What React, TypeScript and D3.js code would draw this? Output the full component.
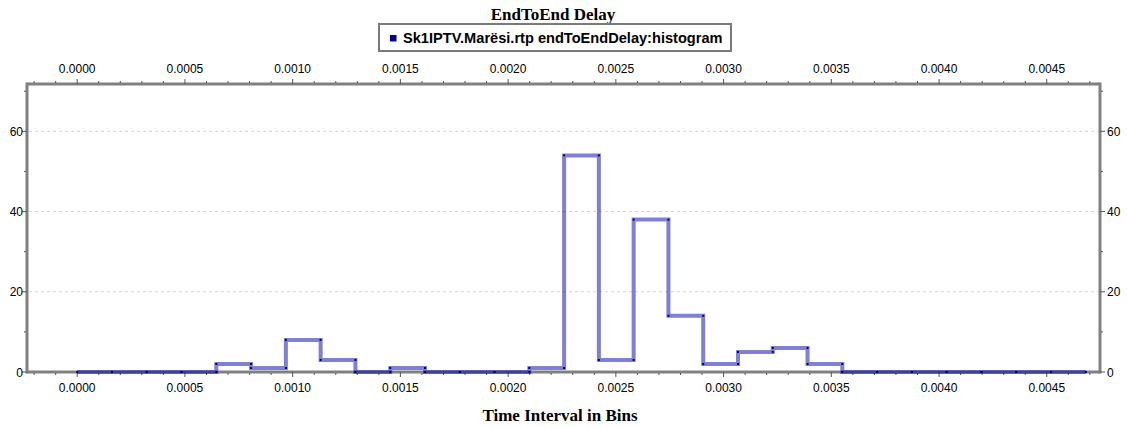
import React from 'react'
import * as d3 from 'd3'

// histogram: 29 equal bins from binStart to binEnd
const binStart = 0
const binEnd = 0.004681
const counts = [0, 0, 0, 0, 2, 1, 8, 3, 0, 1, 0, 0, 0, 1, 54, 3, 38, 14, 2, 5, 6, 2, 0, 0, 0, 0, 0, 0, 0]

const xTickValues = [0, 0.0005, 0.001, 0.0015, 0.002, 0.0025, 0.003, 0.0035, 0.004, 0.0045]
const yTickValues = [0, 20, 40, 60]
const yMinorValues = [10, 30, 50, 70]

const title = 'EndToEnd Delay'
const seriesName = 'Sk1IPTV.Marësi.rtp endToEndDelay:histogram'
const xTitle = 'Time Interval in Bins'

const W = 1127
const H = 427
const left = 27
const right = 1100
const top = 84
const bottom = 372

export default function App() {
  const x = d3.scaleLinear().domain([-0.000233, 0.004747]).range([left, right])
  const y = d3.scaleLinear().domain([0, 71.8]).range([bottom, top])

  const bw = (binEnd - binStart) / counts.length
  const pts: [number, number][] = []
  counts.forEach((c, i) => {
    pts.push([binStart + i * bw, c])
    pts.push([binStart + (i + 1) * bw, c])
  })
  const line = d3.line<[number, number]>()
    .x(d => x(d[0]))
    .y(d => y(d[1]))

  const minorX = d3.range(-2, 48).map(k => k * 0.0001).filter(v => x(v) > left + 2 && x(v) < right - 2 && Math.abs(v * 2000 - Math.round(v * 2000)) > 1e-6)

  const sans = 'Arial, "Liberation Sans", sans-serif'
  const serif = '"Times New Roman", "Liberation Serif", serif'
  const frame = '#808080'

  return (
    <svg width={W} height={H} style={{ position: 'absolute', left: 0, top: 0, background: '#fff' }}>
      <text x={553} y={20} textAnchor="middle" fontFamily={serif} fontWeight="bold" fontSize={17}>{title}</text>
      <rect x={379} y={24} width={352} height={27} fill="#fff" stroke="#7a7a7a" strokeWidth={2} />
      <rect x={390} y={35} width={6.5} height={6.5} fill="#00008b" />
      <text x={403} y={42.5} fontFamily={sans} fontWeight="bold" fontSize={14.6}>{seriesName}</text>

      {/* grid */}
      {yTickValues.filter(v => v > 0).map(v => (
        <line key={'g' + v} x1={left + 2} x2={right - 2} y1={y(v)} y2={y(v)} stroke="#d4d4d4" strokeDasharray="3,3" />
      ))}

      {/* frame */}
      <line x1={left} x2={right} y1={top} y2={top} stroke={frame} strokeWidth={3} />
      <line x1={left} x2={right} y1={bottom} y2={bottom} stroke={frame} strokeWidth={3} />
      <line x1={left} x2={left} y1={top - 1.5} y2={bottom + 1.5} stroke={frame} strokeWidth={3} />
      <line x1={right} x2={right} y1={top - 1.5} y2={bottom + 1.5} stroke={frame} strokeWidth={3} />

      {/* x ticks */}
      {xTickValues.map(v => (
        <g key={'x' + v}>
          <line x1={x(v)} x2={x(v)} y1={top - 5} y2={top} stroke="#555" />
          <line x1={x(v)} x2={x(v)} y1={bottom} y2={bottom + 5} stroke="#555" />
          <text x={x(v)} y={top - 11} textAnchor="middle" fontFamily={sans} fontSize={12}>{v.toFixed(4)}</text>
          <text x={x(v)} y={bottom + 20} textAnchor="middle" fontFamily={sans} fontSize={12}>{v.toFixed(4)}</text>
        </g>
      ))}
      {minorX.map(v => (
        <g key={'m' + v}>
          <line x1={x(v)} x2={x(v)} y1={top - 3} y2={top - 1} stroke="#555" />
          <line x1={x(v)} x2={x(v)} y1={bottom + 1} y2={bottom + 3} stroke="#555" />
        </g>
      ))}

      {/* y ticks */}
      {yTickValues.map(v => (
        <g key={'y' + v}>
          <line x1={left - 5} x2={left} y1={y(v)} y2={y(v)} stroke="#555" />
          <line x1={right} x2={right + 5} y1={y(v)} y2={y(v)} stroke="#555" />
          <text x={left - 4} y={y(v) + 4.5} textAnchor="end" fontFamily={sans} fontSize={12}>{v}</text>
          <text x={right + 7} y={y(v) + 4.5} textAnchor="start" fontFamily={sans} fontSize={12}>{v}</text>
        </g>
      ))}
      {yMinorValues.map(v => (
        <g key={'ym' + v}>
          <line x1={left - 3} x2={left - 1} y1={y(v)} y2={y(v)} stroke="#555" />
          <line x1={right + 1} x2={right + 3} y1={y(v)} y2={y(v)} stroke="#555" />
        </g>
      ))}

      {/* histogram step line */}
      <path d={line(pts) || ''} fill="none" stroke="#0000a8" strokeOpacity={0.5} strokeWidth={4} strokeLinejoin="miter" />
      {pts.map((p, i) => (
        <rect key={'p' + i} x={x(p[0]) - 1} y={y(p[1]) - 1} width={2} height={2} fill="#00007a" />
      ))}

      <text x={560} y={421} textAnchor="middle" fontFamily={serif} fontWeight="bold" fontSize={17}>{xTitle}</text>
    </svg>
  )
}
